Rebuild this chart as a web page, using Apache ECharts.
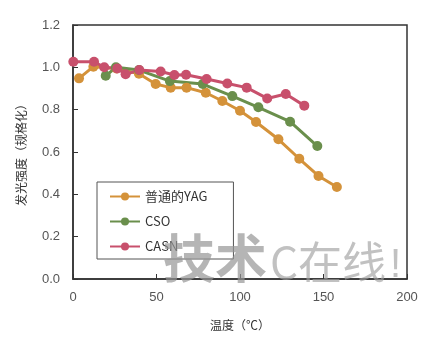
<!DOCTYPE html>
<html><head><meta charset="utf-8">
<script src="https://cdn.jsdelivr.net/npm/echarts@6/dist/echarts.min.js"></script>
<style>html,body{margin:0;padding:0;background:#fff}#c{width:430px;height:337px}</style>
</head><body><div id="c"></div>
<script>
const seriesNames = ['普通的YAG', 'CSO', 'CASN'];
const yagX = [3.6, 12.2, 26, 39.5, 49.5, 58.5, 68, 79.5, 89.4, 100, 109.6, 123, 135.5, 147, 158];
const yagY = [0.948, 1.003, 0.995, 0.97, 0.921, 0.904, 0.904, 0.88, 0.841, 0.795, 0.742, 0.66, 0.568, 0.487, 0.435];
const csoX = [19.6, 25.7, 39.5, 58, 77.7, 95.4, 111, 130, 146.3];
const csoY = [0.96, 1.0, 0.987, 0.935, 0.921, 0.864, 0.811, 0.743, 0.628];
const casnX = [0.2, 12.6, 18.7, 26.5, 31.5, 39.7, 52.5, 60.7, 67.7, 80, 92.4, 104, 116.3, 127.4, 138.5];
const casnY = [1.026, 1.026, 1.0, 0.995, 0.967, 0.987, 0.98, 0.964, 0.965, 0.945, 0.924, 0.904, 0.853, 0.874, 0.819];
const xTicks = [0, 50, 100, 150, 200];
const yTicks = [0.0, 0.2, 0.4, 0.6, 0.8, 1.0, 1.2];
const colors = ['#D4923A', '#6A8F4C', '#C8506C'];

const zip = (a, b) => a.map((v, i) => [v, b[i]]);
const chart = echarts.init(document.getElementById('c'));
const mk = (name, data, color) => ({
  name, type: 'line', data, color,
  symbol: 'circle', symbolSize: 10,
  lineStyle: { width: 3, color },
  itemStyle: { color },
  animation: false
});
chart.setOption({
  animation: false,
  grid: { left: 73, top: 25, right: 23, bottom: 58, show: true, borderColor: '#333', borderWidth: 1.5 },
  xAxis: {
    type: 'value', min: 0, max: 200, interval: 50,
    name: '温度（℃）', nameLocation: 'middle', nameGap: 40,
    nameTextStyle: { fontSize: 12, color: '#333', fontFamily: 'Noto Sans CJK SC' },
    axisLine: { show: true, lineStyle: { color: '#333', width: 1.5 } },
    axisTick: { show: true, inside: true, length: 5, lineStyle: { color: '#333' } },
    axisLabel: { fontSize: 13, color: '#555', margin: 12, fontFamily: 'Liberation Sans' },
    splitLine: { show: false }
  },
  yAxis: {
    type: 'value', min: 0, max: 1.2, interval: 0.2,
    name: '发光强度（规格化）', nameLocation: 'middle', nameGap: 46, nameRotate: 90,
    nameTextStyle: { fontSize: 12, color: '#333', fontFamily: 'Noto Sans CJK SC' },
    axisLine: { show: true, lineStyle: { color: '#333', width: 1.5 } },
    axisTick: { show: true, inside: true, length: 5, lineStyle: { color: '#333' } },
    axisLabel: { fontSize: 13, color: '#555', margin: 13, fontFamily: 'Liberation Sans',
      formatter: v => v.toFixed(1) },
    splitLine: { show: false }
  },
  legend: {
    data: seriesNames, orient: 'vertical', left: 97, top: 182,
    itemWidth: 30, itemHeight: 10, itemGap: 12,
    padding: [8, 26, 6, 12],
    borderColor: '#555', borderWidth: 1, backgroundColor: '#fff',
    textStyle: { fontSize: 13, color: '#333', fontFamily: 'Noto Sans CJK SC' }
  },
  graphic: [{
    type: 'text', left: 163, top: 232, z: 100,
    style: { text: '技术', fontSize: 52, fill: 'rgba(150,150,150,0.7)', fontFamily: 'Noto Sans CJK SC', fontWeight: 'bold' }
  }, {
    type: 'text', left: 270, top: 240, z: 100,
    style: { text: 'C在线', fontSize: 44, fill: 'rgba(160,160,160,0.65)', fontFamily: 'Noto Sans CJK SC', fontWeight: 'normal' }
  }, {
    type: 'text', left: 390, top: 246, z: 100,
    style: { text: '!', fontSize: 40, fill: 'rgba(160,160,160,0.65)', fontFamily: 'Liberation Sans' }
  }],
  series: [
    mk(seriesNames[0], zip(yagX, yagY), colors[0]),
    mk(seriesNames[1], zip(csoX, csoY), colors[1]),
    mk(seriesNames[2], zip(casnX, casnY), colors[2])
  ]
});
</script></body></html>
